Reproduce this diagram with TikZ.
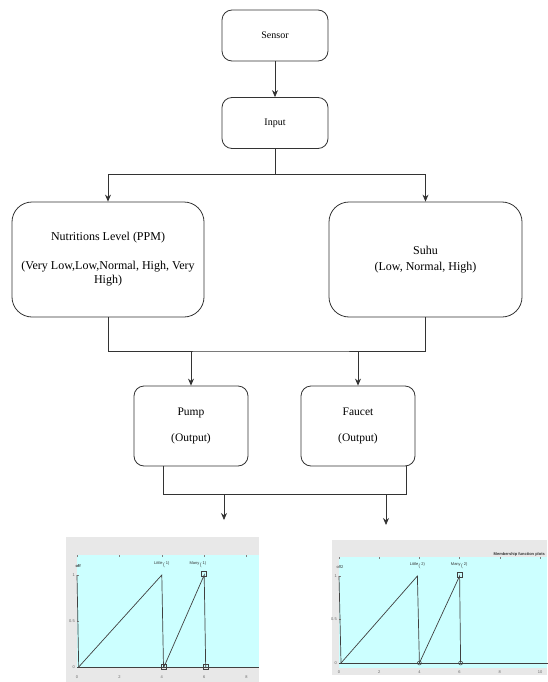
\documentclass[tikz,border=0pt]{standalone}
\usepackage{fontspec}
\setmainfont{Liberation Serif}
\newfontfamily\plotfont{Liberation Sans}
\usetikzlibrary{arrows.meta}
\definecolor{plotcyan}{RGB}{204,255,255}
\definecolor{plotgrey}{RGB}{232,232,232}
\tikzset{
	flowbox/.style={draw=black!80, line width=0.8pt, rounded corners=10pt, align=center, inner sep=0pt},
	smallbox/.style={flowbox, minimum width=106pt, minimum height=51pt, font=\fontsize{10}{12}\selectfont},
	bigbox/.style={flowbox, rounded corners=20pt, minimum width=192pt, minimum height=115pt, font=\fontsize{12}{14}\selectfont},
	outbox/.style={flowbox, minimum width=114pt, minimum height=80pt, font=\fontsize{11.5}{14}\selectfont},
	flowline/.style={draw=black!80, line width=0.8pt},
	flowarrow/.style={flowline, -{Stealth[length=7pt,width=6pt]}},
	mfline/.style={draw=black!75, line width=0.7pt},
	mfmark/.style={draw=black!75, line width=0.5pt, minimum size=5pt, inner sep=0pt},
	ticklabel/.style={font=\plotfont\fontsize{4}{4}\selectfont, text=black!60, inner sep=1pt},
	mflabel/.style={font=\plotfont\fontsize{4}{4}\selectfont, text=black!80, inner sep=0pt},
}

\begin{document}
\begin{tikzpicture}[x=1pt, y=-1pt]
	%%%%% START %%%%%
	\useasboundingbox (0, 0) rectangle (547, 682);
	
	\node[smallbox] (sensor) at (275, 35.5) {Sensor};
	\node[smallbox] (input) at (275, 123) {Input};
	
	\node[bigbox] (nutri) at (108, 259.5) {Nutritions Level (PPM)\\[15pt](Very Low,Low,Normal, High, Very\\High)};
	\node[bigbox, minimum width=193pt] (suhu) at (425.5, 259.5) {Suhu\\[2pt](Low, Normal, High)};
	
	\node[outbox] (pump) at (191, 426) {Pump\\[12pt](Output)};
	\node[outbox] (faucet) at (358, 426) {Faucet\\[12pt](Output)};
	
	\coordinate (split) at (275, 174);
	\coordinate (merge) at (275, 351);
	\coordinate (pumpout) at ([xshift=-28pt]pump.south);
	\coordinate (faucetout) at ([xshift=48pt]faucet.south);
	\coordinate (joinA) at (224, 494);
	\coordinate (joinB) at (386, 494);
	\coordinate (chartA) at (224, 520);
	\coordinate (chartB) at (386, 525);
	
	\draw[flowarrow] (sensor) -- (input);
	\draw[flowline] (input) -- (split);
	\draw[flowarrow] (split) -| (nutri.north);
	\draw[flowarrow] (split) -| (suhu.north);
	
	\draw[flowline] (nutri.south) |- (merge) -| (suhu.south);
	\draw[flowarrow] (pump.north |- merge) -- (pump.north);
	\draw[flowarrow] (faucet.north |- merge) -- (faucet.north);
	
	\draw[flowline] (pumpout) |- (joinA);
	\draw[flowline] (faucetout) |- (joinA);
	\draw[flowarrow] (joinA) -- (chartA);
	\draw[flowarrow] (joinB) -- (chartB);
	
	%%%%% LEFT PLOT %%%%%
	\fill[plotgrey] (66, 537) rectangle (259, 682);
	\fill[plotcyan] (77, 555) rectangle (259, 668);
	\begin{scope}[shift={(77, 667)}, x=21.2pt, y=92pt]
		\foreach \t in {0,2,4,6,8} {
			\draw[black!50, line width=0.4pt] (\t, 1.217) -- ++(0, -2pt);
			\node[ticklabel] (ltick\t) at (\t, -0.11) {\t};
		}
		\foreach \v/\s in {0/0, 0.5/0.5, 1/1} {
			\draw[black!50, line width=0.4pt] (0, \v) -- ++(2pt, 0);
			\node[ticklabel, anchor=east] (lval\v) at (-0.05, \v) {\s};
		}
		\draw[mfline] (0, 0) -- (8.6, 0);
		\draw[mfline] (0, 1) -- (0.08, 0);
		\draw[mfline] (0.08, 0) -- (4.0, 1) -- (4.08, 0);
		\draw[mfline] (4.1, 0) -- (6.0, 1) -- (6.07, 0);
		\node[mfmark] (lm1) at (4.1, 0) {};
		\node[mfmark] (lm2) at (6.07, 0) {};
		\node[mfmark] (lm3) at (6.0, 1.01) {};
		\node[mflabel, font=\plotfont\bfseries\fontsize{4}{4}\selectfont] (lvar) at (0.05, 1.1) {off};
		\node[mflabel] (little1) at (4.0, 1.11) {Little$_($1)};
		\node[mflabel] (many1) at (5.7, 1.11) {Many$_($1)};
	\end{scope}
	
	%%%%% RIGHT PLOT %%%%%
	\fill[plotgrey] (332, 540) rectangle (547, 675);
	\fill[plotcyan] (339, 557) rectangle (547, 668);
	\node[mflabel, anchor=base east, font=\plotfont\bfseries\fontsize{4}{4}\selectfont] (mftitle) at (545, 555) {Membership function plots};
	\begin{scope}[shift={(339, 663)}, x=20.1pt, y=87pt]
		\foreach \t in {0,2,4,6,8,10} {
			\draw[black!50, line width=0.4pt] (\t, 1.218) -- ++(0, -2pt);
			\node[ticklabel] (rtick\t) at (\t, -0.11) {\t};
		}
		\foreach \v/\s in {0/0, 0.5/0.5, 1/1} {
			\draw[black!50, line width=0.4pt] (0, \v) -- ++(2pt, 0);
			\node[ticklabel, anchor=east] (rval\v) at (-0.05, \v) {\s};
		}
		\draw[mfline] (0, 0) -- (10.4, 0);
		\draw[mfline] (0, 1) -- (0.1, 0);
		\draw[mfline] (0.1, 0) -- (3.9, 1) -- (4.0, 0);
		\draw[mfline] (4.0, 0) -- (6.0, 1) -- (6.05, 0);
		\node[mfmark, circle, minimum size=4pt] (rm1) at (4.0, 0) {};
		\node[mfmark, circle, minimum size=4pt] (rm2) at (6.05, 0) {};
		\node[mfmark] (rm3) at (6.0, 1.01) {};
		\node[mflabel] (rvar) at (0.05, 1.1) {off2};
		\node[mflabel] (little2) at (3.9, 1.115) {Little$_($2)};
		\node[mflabel] (many2) at (5.98, 1.115) {Many$_($2)};
	\end{scope}
	
	%%%%% END %%%%%
\end{tikzpicture}
\end{document}
